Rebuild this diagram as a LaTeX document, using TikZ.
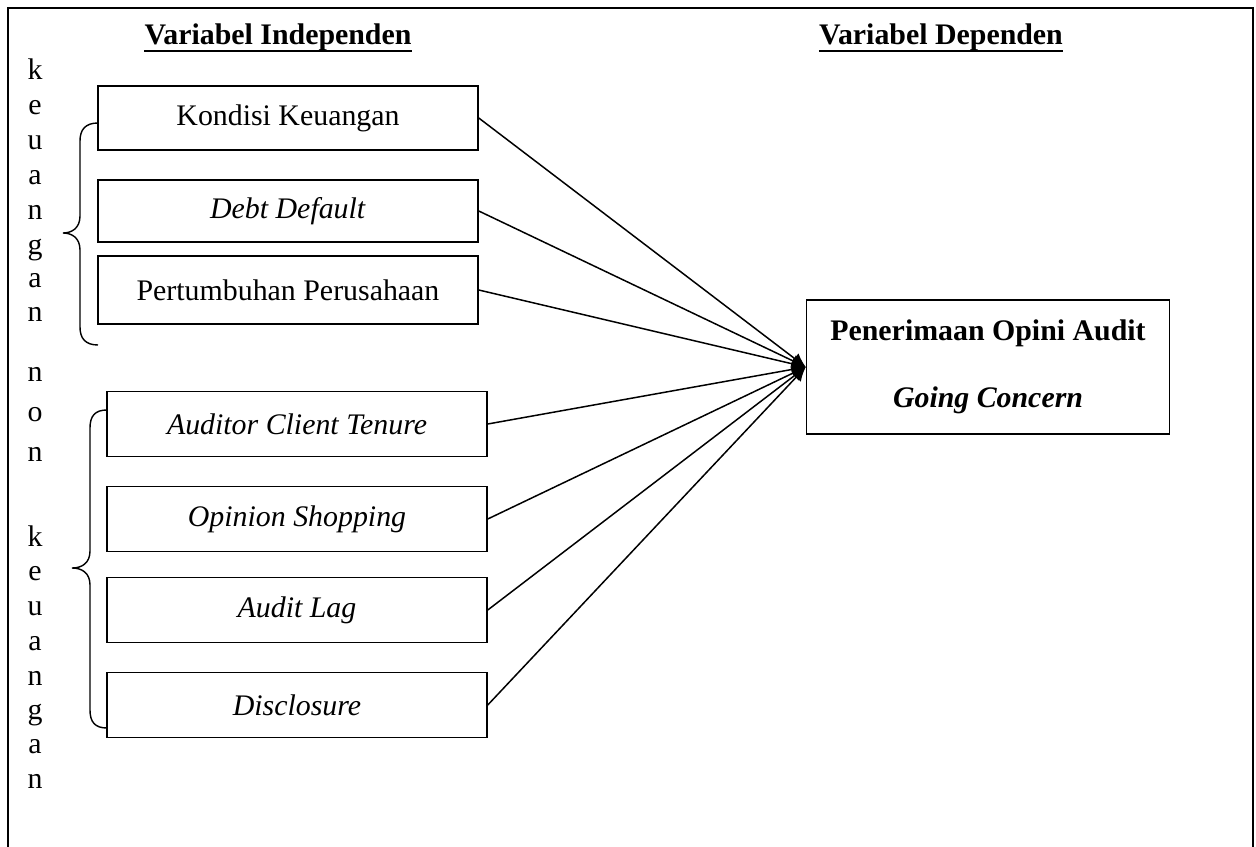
\documentclass[tikz,border=0pt]{standalone}
\usepackage{fontspec}
\setmainfont{Liberation Serif}
\usetikzlibrary{arrows.meta}

\begin{document}
\begin{tikzpicture}[x=0.02cm, y=-0.02cm,
  every node/.style={font=\fontsize{17}{20}\selectfont},
  judul/.style={anchor=base, inner xsep=0pt, font=\bfseries\fontsize{17}{20}\selectfont},
  kotak/.style={draw, line width=0.9pt, minimum width=7.6cm, minimum height=1.3cm, inner sep=0pt},
  panah/.style={line width=0.85pt, -{Latex[length=0.28cm, width=0.26cm]}},
  garis/.style={line width=1.2pt},
  kurung/.style={line width=0.8pt}]
  \useasboundingbox (0,0) rectangle (1256,847);
  \draw[line width=1.4pt] (8,847) -- (8,8) -- (1253,8) -- (1253,847);

  \node[judul] (judulX) at (278,45) {Variabel Independen};
  \node[judul] (judulY) at (941,45) {Variabel Dependen};
  \draw[garis] ([yshift=-3.2pt]judulX.base west) -- ([yshift=-3.2pt]judulX.base east);
  \draw[garis] ([yshift=-3.2pt]judulY.base west) -- ([yshift=-3.2pt]judulY.base east);

  % tulisan tegak di kiri
  \foreach \h/\y [count=\i] in {k/80, e/115, u/150, a/185, n/220, g/255, a/288, n/322,
      n/381, o/421, n/461, k/546, e/580, u/615, a/650, n/685, g/719, a/753, n/788}
    \node[anchor=base] (h\i) at (35,\y) {\h};

  % variabel keuangan
  \node[kotak, minimum height=1.28cm] (kondisi) at (288,118) {Kondisi Keuangan};
  \node[kotak, minimum height=1.24cm] (debt) at (288,211) {\textit{Debt Default}};
  \node[kotak, minimum height=1.36cm] (tumbuh) at (288,290) {Pertumbuhan Perusahaan};

  % variabel non keuangan
  \node[kotak] (tenure) at (297,424) {\textit{Auditor Client Tenure}};
  \node[kotak] (shopping) at (297,519) {\textit{Opinion Shopping}};
  \node[kotak] (lag) at (297,610) {\textit{Audit Lag}};
  \node[kotak] (disclosure) at (297,705) {\textit{Disclosure}};

  \node[kotak, minimum width=7.26cm, minimum height=2.68cm, align=center,
    font=\bfseries\fontsize{17}{20}\selectfont] (opini) at (988,367)
    {Penerimaan Opini Audit\\[18pt]\textit{Going Concern}};

  % kurung kurawal
  \draw[kurung] (98,123) .. controls (85,123) and (80,130) .. (80,141) -- (80,216)
    .. controls (80,228) and (72,233) .. (63,233) .. controls (72,233) and (80,238) .. (80,250)
    -- (80,327) .. controls (80,338) and (85,345) .. (98,345);
  \draw[kurung] (107,410) .. controls (95,410) and (90,416) .. (90,428) -- (90,551)
    .. controls (90,563) and (82,568) .. (72,568) .. controls (82,568) and (90,573) .. (90,585)
    -- (90,710) .. controls (90,722) and (95,728) .. (107,728);

  \foreach \v in {kondisi, debt, tumbuh, tenure, shopping, lag, disclosure}
    \draw[panah] (\v.east) -- (opini.west);
\end{tikzpicture}
\end{document}
